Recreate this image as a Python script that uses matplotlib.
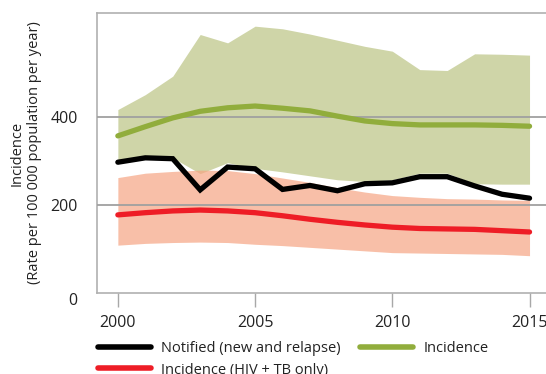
import matplotlib
matplotlib.use("Agg")
import matplotlib.pyplot as plt
from matplotlib.lines import Line2D

plt.rcParams['font.family'] = ['Open Sans', 'DejaVu Sans']

years = list(range(2000, 2016))
notified = [298, 308, 306, 235, 287, 283, 236, 245, 233, 249, 251, 265, 265, 244, 225, 216]
incidence = [358, 379, 399, 414, 422, 426, 421, 415, 403, 392, 386, 383, 383, 383, 382, 380]
incidence_lo = [303, 311, 308, 272, 297, 284, 276, 267, 258, 254, 258, 273, 273, 249, 248, 248]
incidence_hi = [418, 452, 494, 589, 570, 608, 602, 590, 576, 562, 551, 509, 507, 545, 544, 542]
hiv = [178, 183, 187, 189, 187, 183, 176, 168, 161, 155, 150, 147, 146, 145, 142, 139]
hiv_lo = [109, 113, 115, 116, 115, 111, 108, 104, 100, 96, 92, 91, 90, 89, 88, 85]
hiv_hi = [263, 273, 277, 280, 279, 272, 262, 252, 240, 230, 222, 218, 215, 214, 212, 211]

yticks = [0, 200, 400]
xticks = [2000, 2005, 2010, 2015]

fig = plt.figure(figsize=(5.46, 3.74), dpi=100)
ax = fig.add_axes([97/546, 1 - 293/374, (546 - 97)/546, (293 - 13)/374])

green_band = '#cfd5a8'
green_line = '#91ad3c'
black = '#000000'
red = '#ee1d26'

ax.fill_between(years, incidence_lo, incidence_hi, color=green_band, lw=0, zorder=1)
ax.fill_between(years, hiv_lo, hiv_hi, color=(246/255, 165/255, 131/255), alpha=0.7, lw=0, zorder=2)

for y in [200, 400]:
    ax.axhline(y, color='#a0a0a0', lw=1.3, zorder=3)

ax.plot(years, incidence, color=green_line, lw=3.8, solid_capstyle='round', zorder=4)
ax.plot(years, hiv, color=red, lw=3.8, solid_capstyle='round', zorder=4)
ax.plot(years, notified, color=black, lw=3.8, solid_capstyle='round', solid_joinstyle='miter', zorder=5)

ax.set_xlim(1999.24, 2015.6)
ax.set_ylim(0, 638)
ax.set_xticks(xticks)
ax.set_xticklabels([str(x) for x in xticks])
ax.set_yticks(yticks)
ax.set_yticklabels([str(y) for y in yticks])
ax.tick_params(axis='x', length=10, width=1, color='#a8a8a8', labelsize=11.5, pad=6, labelcolor='#222222')
ax.tick_params(axis='y', length=0, labelsize=11.5, pad=14, labelcolor='#222222')
for lbl in ax.get_yticklabels():
    if lbl.get_text() == '0':
        lbl.set_va('top')
        lbl.set_y(-0.0)

for s in ['left', 'top', 'bottom']:
    ax.spines[s].set_color('#b0b0b0')
    ax.spines[s].set_linewidth(1.2)
ax.spines['right'].set_visible(False)

fig.text(26/546, 1 - 153/374, 'Incidence\n(Rate per 100 000 population per year)',
         rotation=90, ha='center', va='center', fontsize=10.5, color='#222222',
         linespacing=1.2, multialignment='center')

handles = [
    Line2D([], [], color=black, lw=4, solid_capstyle='round'),
    Line2D([], [], color=red, lw=4, solid_capstyle='round'),
    Line2D([], [], color=green_line, lw=4, solid_capstyle='round'),
]
labels = ['Notified (new and relapse)', 'Incidence (HIV + TB only)', 'Incidence']
leg = fig.legend(handles, labels, ncol=2, loc='upper left',
                 bbox_to_anchor=(98/546, 1 - 341/374), frameon=False,
                 fontsize=10.5, handlelength=3.6, handletextpad=0.75,
                 columnspacing=1.3, labelspacing=0.45, borderpad=0, borderaxespad=0)
for t in leg.get_texts():
    t.set_color('#222222')

fig.savefig('out.png', dpi=100)
